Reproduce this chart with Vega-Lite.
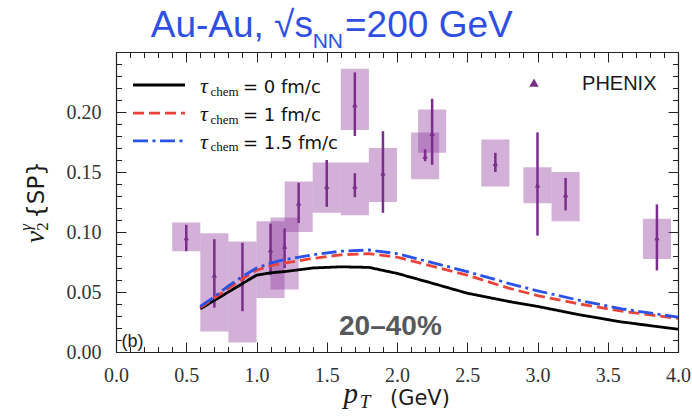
{
  "$schema": "https://vega.github.io/schema/vega-lite/v6.json",
  "width": 562,
  "height": 300,
  "autosize": {"type": "none"},
  "padding": {"left": 116, "top": 52, "right": 14, "bottom": 64},
  "background": "white",
  "config": {
    "view": {"stroke": null},
    "axis": {
      "domainColor": "#222222",
      "domainWidth": 1.2,
      "tickColor": "#222222",
      "tickWidth": 1,
      "grid": false,
      "labelFont": "Liberation Serif",
      "labelFontSize": 20,
      "labelColor": "#333333"
    }
  },
  "data": {"values": [{}]},
  "datasets": {
    "phenix": [
      {"x": 0.5, "v": 0.095, "elo": 0.084, "ehi": 0.106, "bx1": 0.4, "bx2": 0.6, "by1": 0.084, "by2": 0.108},
      {"x": 0.7, "v": 0.064, "elo": 0.037, "ehi": 0.094, "bx1": 0.6, "bx2": 0.8, "by1": 0.017, "by2": 0.099},
      {"x": 0.9, "v": 0.062, "elo": 0.034, "ehi": 0.091, "bx1": 0.8, "bx2": 1.0, "by1": 0.008, "by2": 0.092},
      {"x": 1.1, "v": 0.085, "elo": 0.064, "ehi": 0.107, "bx1": 1.0, "bx2": 1.2, "by1": 0.045, "by2": 0.109},
      {"x": 1.2, "v": 0.088, "elo": 0.070, "ehi": 0.103, "bx1": 1.1, "bx2": 1.3, "by1": 0.052, "by2": 0.112},
      {"x": 1.3, "v": 0.124, "elo": 0.1075, "ehi": 0.141, "bx1": 1.2, "bx2": 1.4, "by1": 0.100, "by2": 0.142},
      {"x": 1.5, "v": 0.138, "elo": 0.121, "ehi": 0.160, "bx1": 1.4, "bx2": 1.6, "by1": 0.116, "by2": 0.158},
      {"x": 1.7, "v": 0.206, "elo": 0.180, "ehi": 0.233, "bx1": 1.6, "bx2": 1.8, "by1": 0.185, "by2": 0.236},
      {"x": 1.7, "v": 0.138, "elo": 0.129, "ehi": 0.149, "bx1": 1.6, "bx2": 1.8, "by1": 0.114, "by2": 0.158},
      {"x": 1.9, "v": 0.149, "elo": 0.116, "ehi": 0.184, "bx1": 1.8, "bx2": 2.0, "by1": 0.125, "by2": 0.170},
      {"x": 2.2, "v": 0.163, "elo": 0.159, "ehi": 0.169, "bx1": 2.1, "bx2": 2.3, "by1": 0.144, "by2": 0.183},
      {"x": 2.25, "v": 0.182, "elo": 0.156, "ehi": 0.211, "bx1": 2.15, "bx2": 2.35, "by1": 0.166, "by2": 0.202},
      {"x": 2.7, "v": 0.157, "elo": 0.150, "ehi": 0.166, "bx1": 2.6, "bx2": 2.8, "by1": 0.138, "by2": 0.177},
      {"x": 3.0, "v": 0.139, "elo": 0.097, "ehi": 0.183, "bx1": 2.9, "bx2": 3.1, "by1": 0.124, "by2": 0.154},
      {"x": 3.2, "v": 0.131, "elo": 0.118, "ehi": 0.145, "bx1": 3.1, "bx2": 3.3, "by1": 0.109, "by2": 0.150},
      {"x": 3.85, "v": 0.095, "elo": 0.068, "ehi": 0.123, "bx1": 3.75, "bx2": 3.95, "by1": 0.0775, "by2": 0.111}
    ],
    "hydro": [
      {"pt": 0.6, "v2": 0.036, "model": "t0"}, {"pt": 0.7, "v2": 0.043, "model": "t0"},
      {"pt": 0.8, "v2": 0.050, "model": "t0"}, {"pt": 0.9, "v2": 0.057, "model": "t0"},
      {"pt": 1.0, "v2": 0.064, "model": "t0"}, {"pt": 1.1, "v2": 0.066, "model": "t0"},
      {"pt": 1.2, "v2": 0.067, "model": "t0"}, {"pt": 1.4, "v2": 0.070, "model": "t0"},
      {"pt": 1.6, "v2": 0.071, "model": "t0"}, {"pt": 1.8, "v2": 0.0705, "model": "t0"},
      {"pt": 2.0, "v2": 0.0655, "model": "t0"}, {"pt": 2.2, "v2": 0.059, "model": "t0"},
      {"pt": 2.5, "v2": 0.049, "model": "t0"}, {"pt": 2.8, "v2": 0.042, "model": "t0"},
      {"pt": 3.0, "v2": 0.038, "model": "t0"}, {"pt": 3.3, "v2": 0.031, "model": "t0"},
      {"pt": 3.6, "v2": 0.025, "model": "t0"}, {"pt": 4.0, "v2": 0.019, "model": "t0"},
      {"pt": 0.6, "v2": 0.037, "model": "t1"}, {"pt": 0.7, "v2": 0.045, "model": "t1"},
      {"pt": 0.8, "v2": 0.053, "model": "t1"}, {"pt": 0.9, "v2": 0.061, "model": "t1"},
      {"pt": 1.0, "v2": 0.068, "model": "t1"}, {"pt": 1.1, "v2": 0.072, "model": "t1"},
      {"pt": 1.2, "v2": 0.074, "model": "t1"}, {"pt": 1.4, "v2": 0.078, "model": "t1"},
      {"pt": 1.6, "v2": 0.081, "model": "t1"}, {"pt": 1.8, "v2": 0.082, "model": "t1"},
      {"pt": 2.0, "v2": 0.079, "model": "t1"}, {"pt": 2.2, "v2": 0.073, "model": "t1"},
      {"pt": 2.5, "v2": 0.064, "model": "t1"}, {"pt": 2.8, "v2": 0.053, "model": "t1"},
      {"pt": 3.0, "v2": 0.047, "model": "t1"}, {"pt": 3.3, "v2": 0.040, "model": "t1"},
      {"pt": 3.6, "v2": 0.034, "model": "t1"}, {"pt": 4.0, "v2": 0.028, "model": "t1"},
      {"pt": 0.6, "v2": 0.038, "model": "t15"}, {"pt": 0.7, "v2": 0.046, "model": "t15"},
      {"pt": 0.8, "v2": 0.055, "model": "t15"}, {"pt": 0.9, "v2": 0.063, "model": "t15"},
      {"pt": 1.0, "v2": 0.070, "model": "t15"}, {"pt": 1.1, "v2": 0.074, "model": "t15"},
      {"pt": 1.2, "v2": 0.077, "model": "t15"}, {"pt": 1.4, "v2": 0.081, "model": "t15"},
      {"pt": 1.6, "v2": 0.084, "model": "t15"}, {"pt": 1.8, "v2": 0.085, "model": "t15"},
      {"pt": 2.0, "v2": 0.082, "model": "t15"}, {"pt": 2.2, "v2": 0.076, "model": "t15"},
      {"pt": 2.5, "v2": 0.067, "model": "t15"}, {"pt": 2.8, "v2": 0.057, "model": "t15"},
      {"pt": 3.0, "v2": 0.051, "model": "t15"}, {"pt": 3.3, "v2": 0.043, "model": "t15"},
      {"pt": 3.6, "v2": 0.036, "model": "t15"}, {"pt": 4.0, "v2": 0.029, "model": "t15"}
    ]
  },
  "resolve": {"axis": {"x": "independent", "y": "independent"}},
  "layer": [
    {
      "data": {"name": "phenix"},
      "mark": {"type": "rect", "color": "#8e3a9d", "opacity": 0.4},
      "encoding": {
        "x": {"field": "bx1", "type": "quantitative", "title": null,
              "scale": {"domain": [0, 4], "nice": false, "zero": false},
              "axis": {"orient": "bottom", "values": [0, 0.5, 1, 1.5, 2, 2.5, 3, 3.5, 4], "format": ".1f",
                       "tickSize": -10, "labelPadding": 23, "labelFlush": false, "labelOverlap": false}},
        "x2": {"field": "bx2"},
        "y": {"field": "by1", "type": "quantitative", "title": null,
              "scale": {"domain": [0, 0.25], "nice": false, "zero": false},
              "axis": {"orient": "left", "values": [0, 0.05, 0.1, 0.15, 0.2], "format": ".2f",
                       "tickSize": -10, "labelPadding": 25, "labelFlush": false, "labelOverlap": false}},
        "y2": {"field": "by2"}
      }
    },
    {
      "data": {"name": "phenix"},
      "mark": {"type": "rule", "color": "#7b2d8c", "strokeWidth": 2.5},
      "encoding": {
        "x": {"field": "x", "type": "quantitative", "title": null,
              "axis": {"orient": "bottom", "labels": false, "domain": false, "tickSize": -5.5,
                       "values": [0,0.1,0.2,0.3,0.4,0.5,0.6,0.7,0.8,0.9,1,1.1,1.2,1.3,1.4,1.5,1.6,1.7,1.8,1.9,2,2.1,2.2,2.3,2.4,2.5,2.6,2.7,2.8,2.9,3,3.1,3.2,3.3,3.4,3.5,3.6,3.7,3.8,3.9,4]}},
        "y": {"field": "elo", "type": "quantitative", "title": null,
              "axis": {"orient": "left", "labels": false, "domain": false, "tickSize": -5.5,
                       "values": [0,0.01,0.02,0.03,0.04,0.05,0.06,0.07,0.08,0.09,0.1,0.11,0.12,0.13,0.14,0.15,0.16,0.17,0.18,0.19,0.2,0.21,0.22,0.23,0.24,0.25]}},
        "y2": {"field": "ehi"}
      }
    },
    {
      "data": {"name": "phenix"},
      "mark": {"type": "point", "shape": "triangle-up", "filled": true, "size": 30, "color": "#7b2d8c", "opacity": 1},
      "encoding": {
        "x": {"field": "x", "type": "quantitative", "title": null,
              "axis": {"orient": "top", "labels": false, "tickSize": -10, "values": [0, 0.5, 1, 1.5, 2, 2.5, 3, 3.5, 4]}},
        "y": {"field": "v", "type": "quantitative", "title": null,
              "axis": {"orient": "right", "labels": false, "tickSize": -10, "values": [0, 0.05, 0.1, 0.15, 0.2, 0.25]}}
      }
    },
    {
      "data": {"name": "hydro"},
      "mark": {"type": "line", "strokeWidth": 2.8},
      "encoding": {
        "x": {"field": "pt", "type": "quantitative", "title": null,
              "axis": {"orient": "top", "labels": false, "domain": false, "tickSize": -5.5,
                       "values": [0,0.1,0.2,0.3,0.4,0.5,0.6,0.7,0.8,0.9,1,1.1,1.2,1.3,1.4,1.5,1.6,1.7,1.8,1.9,2,2.1,2.2,2.3,2.4,2.5,2.6,2.7,2.8,2.9,3,3.1,3.2,3.3,3.4,3.5,3.6,3.7,3.8,3.9,4]}},
        "y": {"field": "v2", "type": "quantitative", "title": null,
              "axis": {"orient": "right", "labels": false, "domain": false, "tickSize": -5.5,
                       "values": [0,0.01,0.02,0.03,0.04,0.05,0.06,0.07,0.08,0.09,0.1,0.11,0.12,0.13,0.14,0.15,0.16,0.17,0.18,0.19,0.2,0.21,0.22,0.23,0.24,0.25]}},
        "color": {"field": "model", "type": "nominal", "legend": null,
                  "scale": {"domain": ["t0", "t1", "t15"], "range": ["#000000", "#e8443a", "#2a52e6"]}},
        "strokeDash": {"field": "model", "type": "nominal", "legend": null,
                       "scale": {"domain": ["t0", "t1", "t15"], "range": [[1, 0], [11, 5], [15, 4.5, 3, 4.5]]}}
      }
    },
    {
      "mark": {"type": "rule", "color": "#000000", "strokeWidth": 2.8},
      "encoding": {
        "x": {"datum": 0.121, "type": "quantitative", "axis": null}, "x2": {"datum": 0.491},
        "y": {"datum": 0.2225, "type": "quantitative", "axis": null}
      }
    },
    {
      "mark": {"type": "rule", "color": "#e8443a", "strokeWidth": 2.8, "strokeDash": [11, 5]},
      "encoding": {
        "x": {"datum": 0.121, "type": "quantitative", "axis": null}, "x2": {"datum": 0.491},
        "y": {"datum": 0.199, "type": "quantitative", "axis": null}
      }
    },
    {
      "mark": {"type": "rule", "color": "#2a52e6", "strokeWidth": 2.8, "strokeDash": [15, 4.5, 3, 4.5]},
      "encoding": {
        "x": {"datum": 0.121, "type": "quantitative", "axis": null}, "x2": {"datum": 0.491},
        "y": {"datum": 0.176, "type": "quantitative", "axis": null}
      }
    },
    {
      "mark": {"type": "text", "text": "τ", "font": "Liberation Serif", "fontStyle": "italic", "fontSize": 22, "align": "left", "baseline": "alphabetic", "color": "#111111"},
      "encoding": {"x": {"datum": 0.598, "type": "quantitative", "axis": null}, "y": {"datum": 0.2158, "type": "quantitative", "axis": null}}
    },
    {
      "mark": {"type": "text", "text": "τ", "font": "Liberation Serif", "fontStyle": "italic", "fontSize": 22, "align": "left", "baseline": "alphabetic", "color": "#111111"},
      "encoding": {"x": {"datum": 0.598, "type": "quantitative", "axis": null}, "y": {"datum": 0.1923, "type": "quantitative", "axis": null}}
    },
    {
      "mark": {"type": "text", "text": "τ", "font": "Liberation Serif", "fontStyle": "italic", "fontSize": 22, "align": "left", "baseline": "alphabetic", "color": "#111111"},
      "encoding": {"x": {"datum": 0.598, "type": "quantitative", "axis": null}, "y": {"datum": 0.1693, "type": "quantitative", "axis": null}}
    },
    {
      "mark": {"type": "text", "text": "chem", "font": "Liberation Serif", "fontSize": 13, "align": "left", "baseline": "alphabetic", "color": "#111111"},
      "encoding": {"x": {"datum": 0.673, "type": "quantitative", "axis": null}, "y": {"datum": 0.2137, "type": "quantitative", "axis": null}}
    },
    {
      "mark": {"type": "text", "text": "chem", "font": "Liberation Serif", "fontSize": 13, "align": "left", "baseline": "alphabetic", "color": "#111111"},
      "encoding": {"x": {"datum": 0.673, "type": "quantitative", "axis": null}, "y": {"datum": 0.1902, "type": "quantitative", "axis": null}}
    },
    {
      "mark": {"type": "text", "text": "chem", "font": "Liberation Serif", "fontSize": 13, "align": "left", "baseline": "alphabetic", "color": "#111111"},
      "encoding": {"x": {"datum": 0.673, "type": "quantitative", "axis": null}, "y": {"datum": 0.1672, "type": "quantitative", "axis": null}}
    },
    {
      "mark": {"type": "text", "text": "= 0 fm/c", "font": "DejaVu Sans", "fontSize": 18, "align": "left", "baseline": "alphabetic", "color": "#111111"},
      "encoding": {"x": {"datum": 0.904, "type": "quantitative", "axis": null}, "y": {"datum": 0.2158, "type": "quantitative", "axis": null}}
    },
    {
      "mark": {"type": "text", "text": "= 1 fm/c", "font": "DejaVu Sans", "fontSize": 18, "align": "left", "baseline": "alphabetic", "color": "#111111"},
      "encoding": {"x": {"datum": 0.904, "type": "quantitative", "axis": null}, "y": {"datum": 0.1923, "type": "quantitative", "axis": null}}
    },
    {
      "mark": {"type": "text", "text": "= 1.5 fm/c", "font": "DejaVu Sans", "fontSize": 18, "align": "left", "baseline": "alphabetic", "color": "#111111"},
      "encoding": {"x": {"datum": 0.904, "type": "quantitative", "axis": null}, "y": {"datum": 0.1693, "type": "quantitative", "axis": null}}
    },
    {
      "mark": {"type": "point", "shape": "triangle-up", "filled": true, "size": 90, "color": "#7b2d8c", "opacity": 1},
      "encoding": {"x": {"datum": 2.975, "type": "quantitative", "axis": null}, "y": {"datum": 0.2244, "type": "quantitative", "axis": null}}
    },
    {
      "mark": {"type": "text", "text": "PHENIX", "font": "Liberation Sans", "fontSize": 20, "align": "left", "baseline": "alphabetic", "color": "#1a1a1a"},
      "encoding": {"x": {"datum": 3.317, "type": "quantitative", "axis": null}, "y": {"datum": 0.218, "type": "quantitative", "axis": null}}
    },
    {
      "mark": {"type": "text", "text": "20–40%", "font": "Liberation Sans", "fontWeight": "bold", "fontSize": 28, "align": "center", "baseline": "alphabetic", "color": "#55595e"},
      "encoding": {"x": {"datum": 1.953, "type": "quantitative", "axis": null}, "y": {"datum": 0.0142, "type": "quantitative", "axis": null}}
    },
    {
      "mark": {"type": "text", "text": "(b)", "font": "Liberation Sans", "fontSize": 18, "align": "left", "baseline": "alphabetic", "color": "#1a1a1a"},
      "encoding": {"x": {"datum": 0.04, "type": "quantitative", "axis": null}, "y": {"datum": 0.0044, "type": "quantitative", "axis": null}}
    },
    {
      "mark": {"type": "text", "text": "Au-Au, √s", "font": "Liberation Sans", "fontSize": 37, "align": "left", "baseline": "alphabetic", "color": "#2f4fe2"},
      "encoding": {"x": {"datum": 0.247, "type": "quantitative", "axis": null}, "y": {"datum": 0.2623, "type": "quantitative", "axis": null}}
    },
    {
      "mark": {"type": "text", "text": "NN", "font": "Liberation Sans", "fontSize": 21, "align": "left", "baseline": "alphabetic", "color": "#2f4fe2"},
      "encoding": {"x": {"datum": 1.4, "type": "quantitative", "axis": null}, "y": {"datum": 0.253, "type": "quantitative", "axis": null}}
    },
    {
      "mark": {"type": "text", "text": "=200 GeV", "font": "Liberation Sans", "fontSize": 37, "align": "left", "baseline": "alphabetic", "color": "#2f4fe2"},
      "encoding": {"x": {"datum": 1.63, "type": "quantitative", "axis": null}, "y": {"datum": 0.2623, "type": "quantitative", "axis": null}}
    },
    {
      "mark": {"type": "text", "text": "p", "font": "Liberation Serif", "fontStyle": "italic", "fontSize": 29, "align": "left", "baseline": "alphabetic", "color": "#1a1a1a"},
      "encoding": {"x": {"datum": 1.62, "type": "quantitative", "axis": null}, "y": {"datum": -0.0425, "type": "quantitative", "axis": null}}
    },
    {
      "mark": {"type": "text", "text": "T", "font": "Liberation Serif", "fontStyle": "italic", "fontSize": 19, "align": "left", "baseline": "alphabetic", "color": "#1a1a1a"},
      "encoding": {"x": {"datum": 1.735, "type": "quantitative", "axis": null}, "y": {"datum": -0.0465, "type": "quantitative", "axis": null}}
    },
    {
      "mark": {"type": "text", "text": "(GeV)", "font": "DejaVu Sans", "fontSize": 21, "align": "left", "baseline": "alphabetic", "color": "#1a1a1a"},
      "encoding": {"x": {"datum": 1.95, "type": "quantitative", "axis": null}, "y": {"datum": -0.0442, "type": "quantitative", "axis": null}}
    },
    {
      "mark": {"type": "text", "text": "v", "font": "Liberation Serif", "fontStyle": "italic", "fontSize": 27, "angle": 270, "align": "left", "baseline": "alphabetic", "color": "#1a1a1a"},
      "encoding": {"x": {"datum": -0.516, "type": "quantitative", "axis": null}, "y": {"datum": 0.0908, "type": "quantitative", "axis": null}}
    },
    {
      "mark": {"type": "text", "text": "2", "font": "Liberation Serif", "fontSize": 17, "angle": 270, "align": "left", "baseline": "alphabetic", "color": "#1a1a1a"},
      "encoding": {"x": {"datum": -0.484, "type": "quantitative", "axis": null}, "y": {"datum": 0.101, "type": "quantitative", "axis": null}}
    },
    {
      "mark": {"type": "text", "text": "γ", "font": "Liberation Serif", "fontStyle": "italic", "fontSize": 17, "angle": 270, "align": "left", "baseline": "alphabetic", "color": "#1a1a1a"},
      "encoding": {"x": {"datum": -0.605, "type": "quantitative", "axis": null}, "y": {"datum": 0.101, "type": "quantitative", "axis": null}}
    },
    {
      "mark": {"type": "text", "text": "{SP}", "font": "DejaVu Sans", "fontSize": 23, "angle": 270, "align": "left", "baseline": "alphabetic", "color": "#1a1a1a"},
      "encoding": {"x": {"datum": -0.516, "type": "quantitative", "axis": null}, "y": {"datum": 0.111, "type": "quantitative", "axis": null}}
    }
  ]
}
